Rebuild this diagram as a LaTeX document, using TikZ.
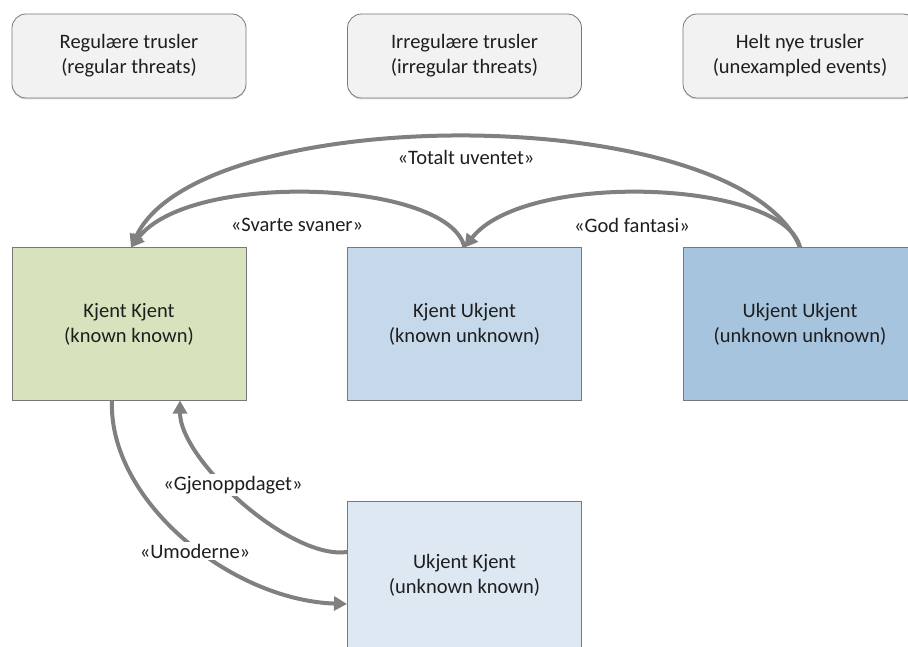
\documentclass[tikz,border=0pt]{standalone}
\usepackage{fontspec}
\setmainfont{Carlito}
\usetikzlibrary{arrows.meta,shadows}
\definecolor{kkfill}{RGB}{215,227,189}
\definecolor{kufill}{RGB}{198,217,234}
\definecolor{uufill}{RGB}{167,196,223}
\definecolor{ukfill}{RGB}{222,232,243}
\definecolor{topfill}{RGB}{242,242,242}
\definecolor{linegray}{RGB}{128,128,128}
\definecolor{edgegray}{RGB}{120,120,120}
\definecolor{txt}{RGB}{30,30,30}
\tikzset{
  txtstyle/.style={font=\fontsize{20.5}{25}\selectfont, text=txt, align=center},
  topbox/.style={txtstyle, draw=edgegray, line width=0.8pt, fill=topfill, rounded corners=14pt,
    minimum width=234pt, minimum height=84pt, inner sep=0pt,
    drop shadow={opacity=0.25, shadow xshift=0pt, shadow yshift=-1.5pt}},
  mainbox/.style={txtstyle, draw=edgegray, line width=1pt, minimum width=234pt, minimum height=152pt, inner sep=0pt},
  conn/.style={draw=linegray, line width=4pt, -{Triangle[width=14pt,length=13pt]}},
  lbl/.style={txtstyle, fill=white, inner sep=2pt}
}
\begin{document}
\begin{tikzpicture}[x=1pt,y=-1pt]
\useasboundingbox (0,0) rectangle (908,647);
\begin{scope}
\clip (0,0) rectangle (908,647);
% top boxes
\node[topbox] (reg) at (129,56) {Regulære trusler\\(regular threats)};
\node[topbox] (irr) at (464.5,56) {Irregulære trusler\\(irregular threats)};
\node[topbox] (new) at (800,56) {Helt nye trusler\\(unexampled events)};
% main boxes
\node[mainbox, fill=kkfill] (kk) at (129,324) {Kjent Kjent\\(known known)};
\node[mainbox, fill=kufill] (ku) at (464.5,324) {Kjent Ukjent\\(known unknown)};
\node[mainbox, fill=uufill] (uu) at (800,324) {Ukjent Ukjent\\(unknown unknown)};
\node[mainbox, fill=ukfill, minimum height=148pt] (uk) at (464.5,575) {Ukjent Kjent\\(unknown known)};
\end{scope}
% connectors
\coordinate (uutop) at (uu.north);
\coordinate (kutop) at (ku.north);
\coordinate (kktop) at ([xshift=2pt]kk.north);
\draw[conn] (uutop) .. controls (740,100) and (200,100) .. (kktop);
\draw[conn] (kutop) .. controls (450,180) and (190,170) .. (kktop);
\draw[conn] (uutop) .. controls (785,180) and (525,170) .. (kutop);
\coordinate (ukl1) at ([yshift=23pt]uk.west);
\coordinate (ukl2) at ([yshift=-29pt]uk.west);
\coordinate (kkb1) at ([xshift=-17pt]kk.south);
\coordinate (kkb2) at ([xshift=51pt]kk.south);
\draw[conn] (ukl1) .. controls (290,560) and (180,460) .. (kkb2);
\draw[conn] (kkb1) .. controls (108,500) and (230,600) .. (ukl2);
% labels
\node[txtstyle] (ltot) at (466,157) {«Totalt uventet»};
\node[txtstyle] (lsva) at (297,225) {«Svarte svaner»};
\node[txtstyle] (lgod) at (632,225) {«God fantasi»};
\node[lbl] (lgje) at (233,485) {«Gjenoppdaget»};
\node[lbl] (lumo) at (195,551) {«Umoderne»};
\end{tikzpicture}
\end{document}
